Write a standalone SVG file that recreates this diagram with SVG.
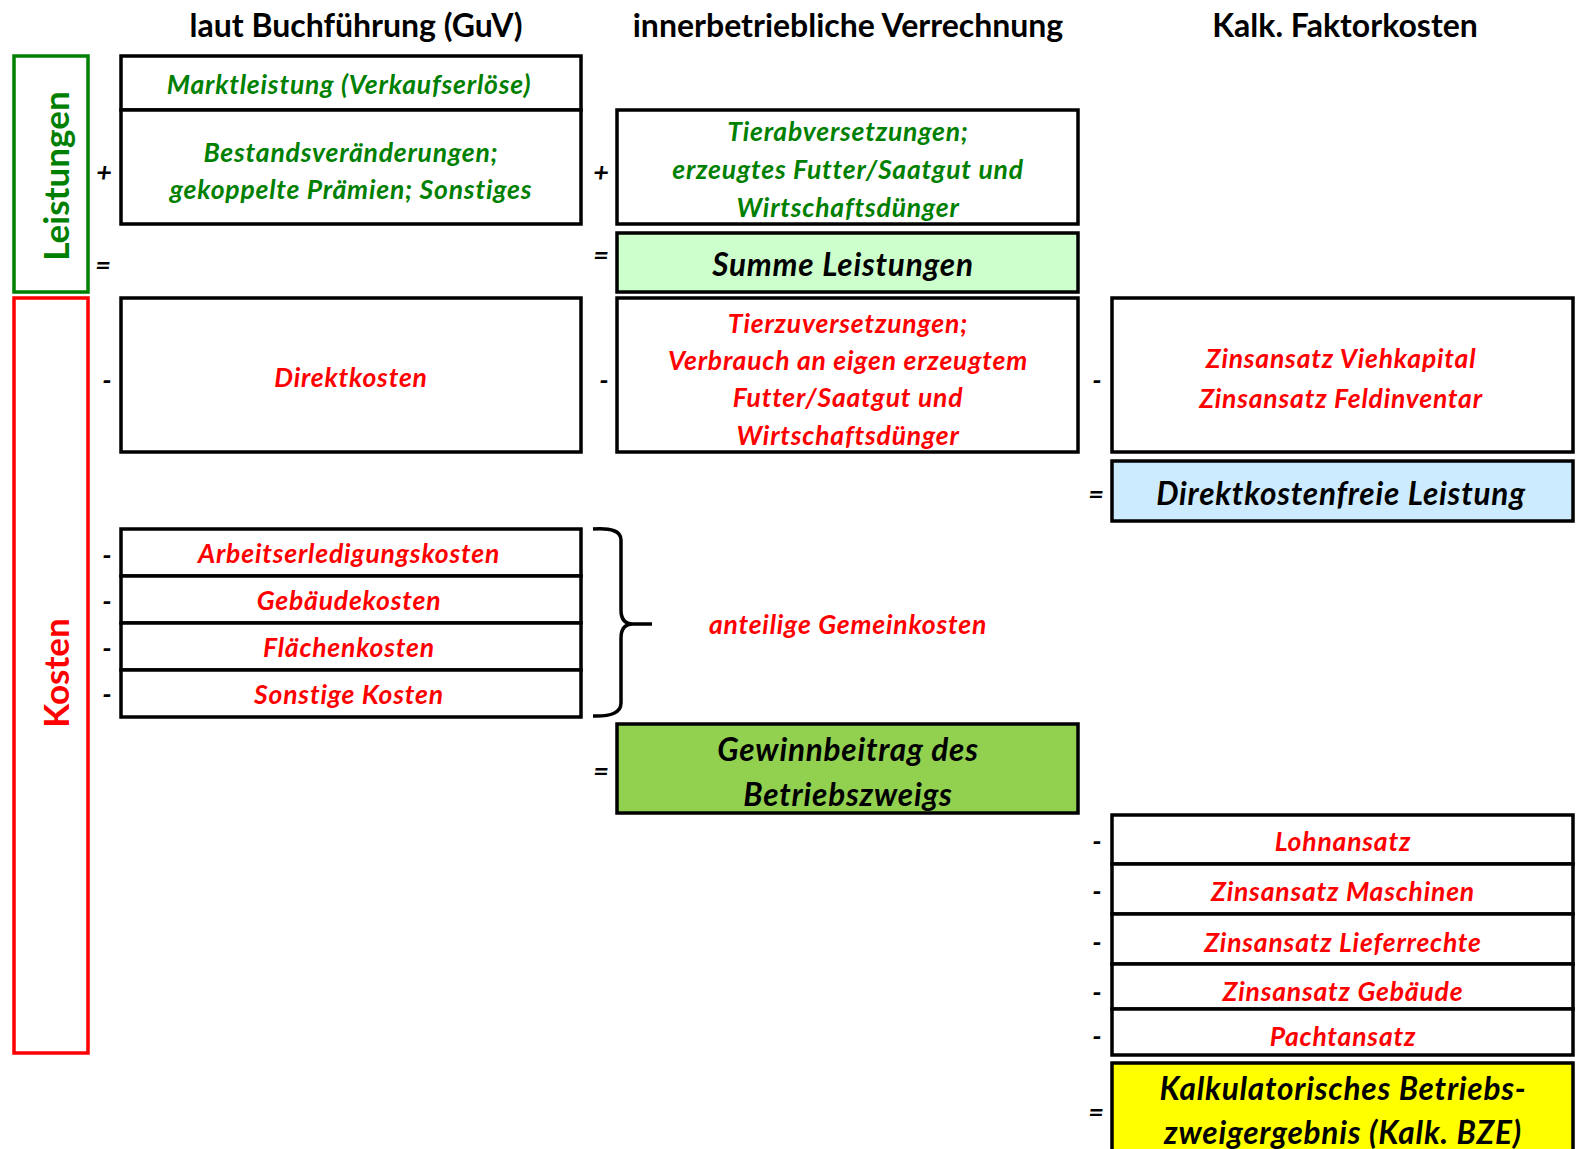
<svg xmlns="http://www.w3.org/2000/svg" width="1577" height="1149" viewBox="0 0 1577 1149">
<style>
text{font-family:Lato,"Liberation Sans",sans-serif;font-weight:bold;text-anchor:middle;dominant-baseline:central}
.h{font-size:32px;fill:#000}
.g{font-size:26.5px;letter-spacing:0.8px;font-style:italic;fill:#008000}
.r{font-size:26.5px;letter-spacing:0.8px;font-style:italic;fill:#FF0000}
.k{font-size:31.5px;letter-spacing:0.8px;font-style:italic;fill:#000}
.op{font-size:27px;font-style:italic;fill:#000}
.box{fill:#fff;stroke:#000;stroke-width:3.5}
.side{fill:none;stroke-width:3.5}
</style>
<rect width="1577" height="1149" fill="#fff"/>
<g id="headers">
<text class="h" x="356" y="24">laut Buchführung (GuV)</text>
<text class="h" x="848" y="24">innerbetriebliche Verrechnung</text>
<text class="h" x="1345" y="24">Kalk. Faktorkosten</text>
</g>
<g id="leistungen">
<rect class="side" x="14" y="56" width="74" height="236" stroke="#008000"/>
<text transform="translate(55,176) rotate(-90)" style="font-size:35px;fill:#008000">Leistungen</text>
</g>
<g id="kosten">
<rect class="side" x="14" y="298" width="74" height="755" stroke="#FF0000"/>
<text transform="translate(55,673) rotate(-90)" style="font-size:35px;fill:#FF0000">Kosten</text>
</g>
<g id="marktleistung">
<rect class="box" x="121" y="56" width="460" height="54"/>
<text class="g" x="349" y="84">Marktleistung (Verkaufserlöse)</text>
</g>
<g id="bestand">
<rect class="box" x="121" y="110" width="460" height="114"/>
<text class="g" x="351" y="152">Bestandsveränderungen;</text>
<text class="g" x="351" y="189">gekoppelte Prämien; Sonstiges</text>
</g>
<g id="tierab">
<rect class="box" x="617" y="110" width="461" height="114"/>
<text class="g" x="848" y="131">Tierabversetzungen;</text>
<text class="g" x="848" y="169">erzeugtes Futter/Saatgut und</text>
<text class="g" x="848" y="207">Wirtschaftsdünger</text>
</g>
<g id="summe">
<rect class="box" x="617" y="233" width="461" height="59" style="fill:#CCFFCC"/>
<text class="k" x="843" y="264">Summe Leistungen</text>
</g>
<g id="direktkosten">
<rect class="box" x="121" y="298" width="460" height="154"/>
<text class="r" x="351" y="377">Direktkosten</text>
</g>
<g id="tierzu">
<rect class="box" x="617" y="298" width="461" height="154"/>
<text class="r" x="848" y="323">Tierzuversetzungen;</text>
<text class="r" x="848" y="360">Verbrauch an eigen erzeugtem</text>
<text class="r" x="848" y="397">Futter/Saatgut und</text>
<text class="r" x="848" y="435">Wirtschaftsdünger</text>
</g>
<g id="zinsvieh">
<rect class="box" x="1112" y="298" width="461" height="154"/>
<text class="r" x="1341" y="358">Zinsansatz Viehkapital</text>
<text class="r" x="1341" y="398">Zinsansatz Feldinventar</text>
</g>
<g id="dkfl">
<rect class="box" x="1112" y="461" width="461" height="60" style="fill:#CCEBFF"/>
<text class="k" x="1341" y="493">Direktkostenfreie Leistung</text>
</g>
<g id="gemeinkosten">
<rect class="box" x="121" y="529" width="460" height="47"/>
<text class="r" x="349" y="553">Arbeitserledigungskosten</text>
<rect class="box" x="121" y="576" width="460" height="47"/>
<text class="r" x="349" y="600">Gebäudekosten</text>
<rect class="box" x="121" y="623" width="460" height="47"/>
<text class="r" x="349" y="647">Flächenkosten</text>
<rect class="box" x="121" y="670" width="460" height="47"/>
<text class="r" x="349" y="694">Sonstige Kosten</text>
</g>
<g id="connectors">
<path d="M593,529 Q621,527 621,540 L621,610 Q621,624 633,624 L652,624 M633,624 Q621,624 621,638 L621,703 Q621,717 593,716" fill="none" stroke="#000" stroke-width="3.5"/>
</g>
<g id="anteilig">
<text class="r" x="848" y="624">anteilige Gemeinkosten</text>
</g>
<g id="gewinnbeitrag">
<rect class="box" x="617" y="724" width="461" height="89" style="fill:#92D050"/>
<text class="k" x="848" y="749">Gewinnbeitrag des</text>
<text class="k" x="848" y="794">Betriebszweigs</text>
</g>
<g id="faktor">
<rect class="box" x="1112" y="815" width="461" height="49"/>
<text class="r" x="1343" y="841">Lohnansatz</text>
<rect class="box" x="1112" y="864" width="461" height="50"/>
<text class="r" x="1343" y="891">Zinsansatz Maschinen</text>
<rect class="box" x="1112" y="914" width="461" height="50"/>
<text class="r" x="1343" y="942">Zinsansatz Lieferrechte</text>
<rect class="box" x="1112" y="964" width="461" height="45"/>
<text class="r" x="1343" y="991">Zinsansatz Gebäude</text>
<rect class="box" x="1112" y="1009" width="461" height="46"/>
<text class="r" x="1343" y="1036">Pachtansatz</text>
</g>
<g id="bze">
<rect class="box" x="1112" y="1063" width="461" height="95" style="fill:#FFFF00"/>
<text class="k" x="1343" y="1088">Kalkulatorisches Betriebs-</text>
<text class="k" x="1343" y="1132">zweigergebnis (Kalk. BZE)</text>
</g>
<g id="operators">
<text class="op" x="104" y="171">+</text>
<text class="op" x="103" y="264">=</text>
<text class="op" x="107" y="379">-</text>
<text class="op" x="107" y="554">-</text>
<text class="op" x="107" y="600">-</text>
<text class="op" x="107" y="647">-</text>
<text class="op" x="107" y="693">-</text>
<text class="op" x="601" y="171">+</text>
<text class="op" x="601" y="254">=</text>
<text class="op" x="604" y="379">-</text>
<text class="op" x="601" y="770">=</text>
<text class="op" x="1097" y="379">-</text>
<text class="op" x="1096" y="493">=</text>
<text class="op" x="1097" y="840">-</text>
<text class="op" x="1097" y="890">-</text>
<text class="op" x="1097" y="941">-</text>
<text class="op" x="1097" y="991">-</text>
<text class="op" x="1097" y="1035">-</text>
<text class="op" x="1096" y="1111">=</text>
</g>
</svg>
